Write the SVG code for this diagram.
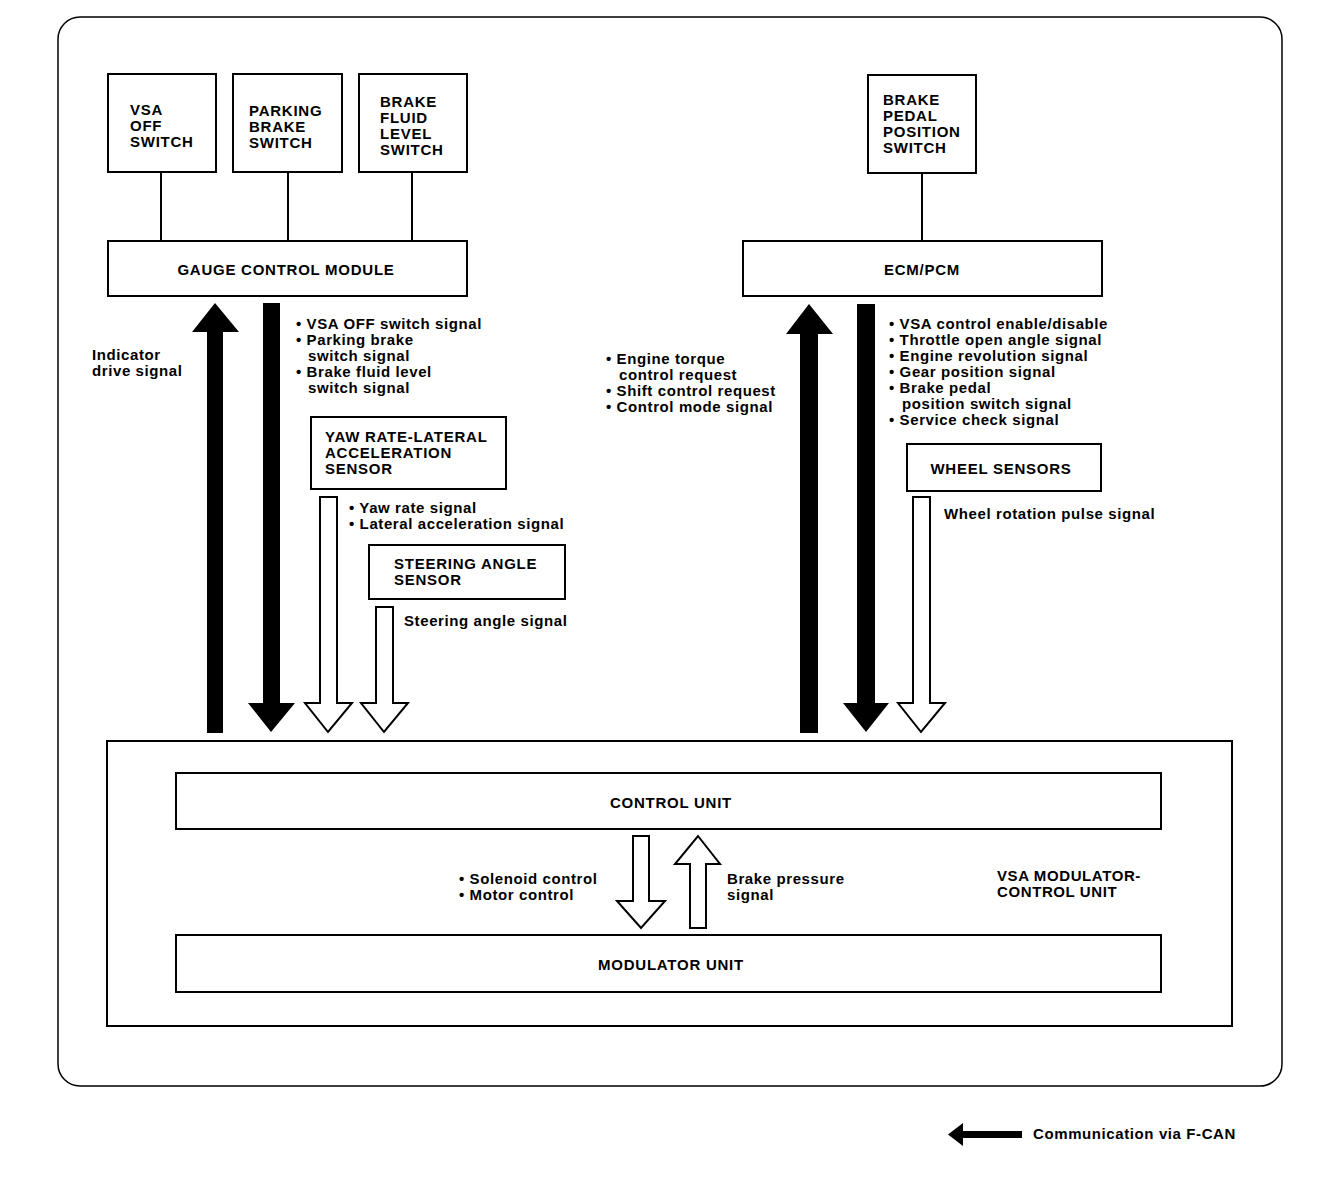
<svg xmlns="http://www.w3.org/2000/svg" width="1328" height="1182" viewBox="0 0 1328 1182">
<style>
.bx{fill:#fff;stroke:#000;stroke-width:2}
.ln{stroke:#000;stroke-width:2;fill:none}
.t{font-family:"Liberation Sans",Arial,sans-serif;font-weight:bold;font-size:15px;letter-spacing:0.6px;fill:#000}
.tb{font-family:"Liberation Sans",Arial,sans-serif;font-weight:bold;font-size:15px;letter-spacing:0.75px;fill:#000}
.c{text-anchor:middle}
.blk{fill:#000}
.opn{fill:#fff;stroke:#000;stroke-width:2;stroke-linejoin:miter}
</style>
<rect x="0" y="0" width="1328" height="1182" fill="#fff"/>
<rect x="58" y="17" width="1224" height="1069" rx="22" ry="22" fill="none" stroke="#000" stroke-width="1.5"/>

<g id="vsa-off-switch">
<rect class="bx" x="108" y="74" width="108" height="98"/>
<text class="tb" x="130" y="115">VSA</text>
<text class="tb" x="130" y="131">OFF</text>
<text class="tb" x="130" y="147">SWITCH</text>
</g>
<g id="parking-brake-switch">
<rect class="bx" x="233" y="74" width="109" height="98"/>
<text class="tb" x="249" y="116">PARKING</text>
<text class="tb" x="249" y="132">BRAKE</text>
<text class="tb" x="249" y="148">SWITCH</text>
</g>
<g id="brake-fluid-level-switch">
<rect class="bx" x="359" y="74" width="108" height="98"/>
<text class="tb" x="380" y="107">BRAKE</text>
<text class="tb" x="380" y="123">FLUID</text>
<text class="tb" x="380" y="139">LEVEL</text>
<text class="tb" x="380" y="155">SWITCH</text>
</g>
<g id="gauge-control-module">
<rect class="bx" x="108" y="241" width="359" height="55"/>
<text class="tb c" x="286" y="275">GAUGE CONTROL MODULE</text>
</g>
<g id="brake-pedal-position-switch">
<rect class="bx" x="868" y="75" width="108" height="98"/>
<text class="tb" x="883" y="105">BRAKE</text>
<text class="tb" x="883" y="121">PEDAL</text>
<text class="tb" x="883" y="137">POSITION</text>
<text class="tb" x="883" y="153">SWITCH</text>
</g>
<g id="ecm-pcm">
<rect class="bx" x="743" y="241" width="359" height="55"/>
<text class="tb c" x="922" y="275">ECM/PCM</text>
</g>
<g id="yaw-rate-sensor">
<rect class="bx" x="311" y="417" width="195" height="72"/>
<text class="tb" x="325" y="442">YAW RATE-LATERAL</text>
<text class="tb" x="325" y="458">ACCELERATION</text>
<text class="tb" x="325" y="474">SENSOR</text>
</g>
<g id="steering-angle-sensor">
<rect class="bx" x="369" y="545" width="196" height="54"/>
<text class="tb" x="394" y="569">STEERING ANGLE</text>
<text class="tb" x="394" y="585">SENSOR</text>
</g>
<g id="wheel-sensors">
<rect class="bx" x="907" y="444" width="194" height="47"/>
<text class="tb c" x="1001" y="474">WHEEL SENSORS</text>
</g>
<g id="vsa-modulator-control-unit">
<rect class="bx" x="107" y="741" width="1125" height="285"/>
<text class="t" x="997" y="881">VSA MODULATOR-</text>
<text class="t" x="997" y="897">CONTROL UNIT</text>
</g>
<g id="control-unit">
<rect class="bx" x="176" y="773" width="985" height="56"/>
<text class="tb c" x="671" y="808">CONTROL UNIT</text>
</g>
<g id="modulator-unit">
<rect class="bx" x="176" y="935" width="985" height="57"/>
<text class="tb c" x="671" y="970">MODULATOR UNIT</text>
</g>

<g id="connectors">
<line class="ln" x1="161" y1="172" x2="161" y2="241"/>
<line class="ln" x1="288" y1="172" x2="288" y2="241"/>
<line class="ln" x1="412" y1="172" x2="412" y2="241"/>
<line class="ln" x1="922" y1="173" x2="922" y2="241"/>
<polygon class="blk" points="207,733 223,733 223,332 239,332 215,303 192,332 207,332"/>
<polygon class="blk" points="263,303 280,303 280,703 295,703 271,732 248,703 263,703"/>
<polygon class="opn" points="320,497 337,497 337,703 352,703 328,732 305,703 320,703"/>
<polygon class="opn" points="376,607 393,607 393,703 408,703 384,732 361,703 376,703"/>
<polygon class="blk" points="800,733 818,733 818,334 833,334 809,304 786,334 800,334"/>
<polygon class="blk" points="857,304 875,304 875,703 889,703 866,732 843,703 857,703"/>
<polygon class="opn" points="913,497 930,497 930,703 945,703 921,732 898,703 913,703"/>
<polygon class="opn" points="633,836 649,836 649,901 665,901 641,928 617,901 633,901"/>
<polygon class="opn" points="690,928 706,928 706,864 720,864 698,836 675,864 690,864"/>
<polygon class="blk" points="1022,1131 963,1131 963,1123 948,1134.5 963,1146 963,1138 1022,1138"/>
</g>

<g id="labels">
<text class="t" x="92" y="360">Indicator</text>
<text class="t" x="92" y="376">drive signal</text>

<text class="t" x="296" y="329">• VSA OFF switch signal</text>
<text class="t" x="296" y="345">• Parking brake</text>
<text class="t" x="308" y="361">switch signal</text>
<text class="t" x="296" y="377">• Brake fluid level</text>
<text class="t" x="308" y="393">switch signal</text>

<text class="t" x="349" y="513">• Yaw rate signal</text>
<text class="t" x="349" y="529">• Lateral acceleration signal</text>
<text class="t" x="404" y="626">Steering angle signal</text>

<text class="t" x="606" y="364">• Engine torque</text>
<text class="t" x="619" y="380">control request</text>
<text class="t" x="606" y="396">• Shift control request</text>
<text class="t" x="606" y="412">• Control mode signal</text>

<text class="t" x="889" y="329">• VSA control enable/disable</text>
<text class="t" x="889" y="345">• Throttle open angle signal</text>
<text class="t" x="889" y="361">• Engine revolution signal</text>
<text class="t" x="889" y="377">• Gear position signal</text>
<text class="t" x="889" y="393">• Brake pedal</text>
<text class="t" x="902" y="409">position switch signal</text>
<text class="t" x="889" y="425">• Service check signal</text>

<text class="t" x="944" y="519">Wheel rotation pulse signal</text>

<text class="t" x="459" y="884">• Solenoid control</text>
<text class="t" x="459" y="900">• Motor control</text>
<text class="t" x="727" y="884">Brake pressure</text>
<text class="t" x="727" y="900">signal</text>

<text class="t" x="1033" y="1139">Communication via F-CAN</text>
</g>
</svg>
